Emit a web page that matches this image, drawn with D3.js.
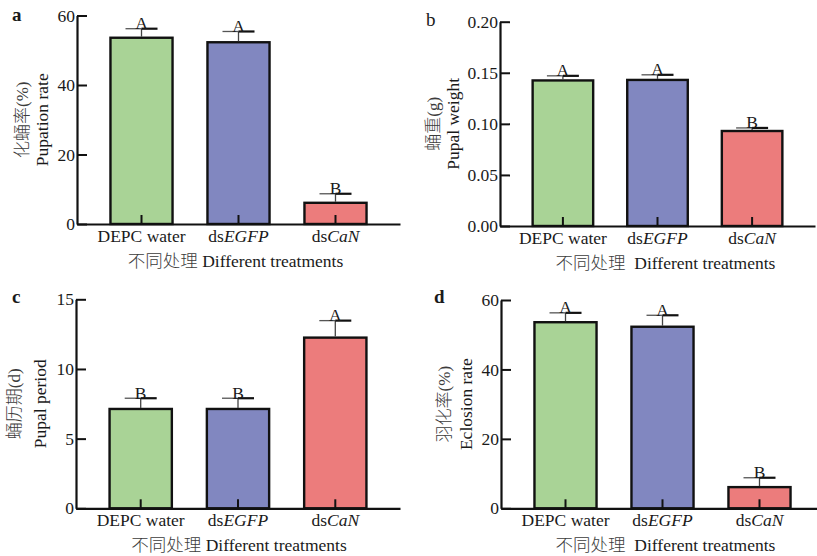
<!DOCTYPE html>
<html>
<head>
<meta charset="utf-8">
<script src="https://cdn.jsdelivr.net/npm/d3@7"></script>
<style>
  html, body { margin: 0; padding: 0; background: #fff; }
  svg { display: block; }
</style>
</head>
<body>
<script>
const WIDTH = 817;
const HEIGHT = 556;
const INK = '#1a1a1a';
const ZH_INK = '#3c3c3c';
const SERIF = '"Liberation Serif", "Times New Roman", serif';
const CJK = '"Liberation Serif", "Noto Sans CJK SC", sans-serif';

// categories (prefix + italic part)
const categories = ['DEPC water', 'dsEGFP', 'dsCaN'];
const catPlain = ['DEPC water', 'ds', 'ds'];
const catItalic = ['', 'EGFP', 'CaN'];
const barColors = ['#a9d396', '#8187c0', '#ec7c7c'];

// a: pupation rate (%)
const pupationRate = [53.6, 52.3, 6.1];
const pupationErr = [2.6, 3.1, 2.6];
const pupationLetters = ['A', 'A', 'B'];
const pupationTicks = [0, 20, 40, 60];

// b: pupal weight (g)
const pupalWeight = [0.1425, 0.143, 0.093];
const pupalWeightErr = [0.0045, 0.005, 0.003];
const pupalWeightLetters = ['A', 'A', 'B'];
const pupalWeightTicks = [0, 0.05, 0.10, 0.15, 0.20];

// c: pupal period (d)
const pupalPeriod = [7.13, 7.13, 12.25];
const pupalPeriodErr = [0.77, 0.77, 1.22];
const pupalPeriodLetters = ['B', 'B', 'A'];
const pupalPeriodTicks = [0, 5, 10, 15];

// d: eclosion rate (%)
const eclosionRate = [53.6, 52.3, 6.1];
const eclosionErr = [2.7, 3.3, 2.7];
const eclosionLetters = ['A', 'A', 'B'];
const eclosionTicks = [0, 20, 40, 60];

const svg = d3.select('body').append('svg')
  .attr('width', WIDTH)
  .attr('height', HEIGHT)
  .attr('viewBox', `0 0 ${WIDTH} ${HEIGHT}`);

function drawPanel(p) {
  const g = svg.append('g');
  const x = d3.scaleBand()
    .domain(categories)
    .range([p.x0, p.x1])
    .paddingInner(0.36)
    .paddingOuter(0.345);
  const y = d3.scaleLinear()
    .domain([0, p.max])
    .range([p.y0, p.yTop]);

  const rows = categories.map((c, i) => ({ c, i, v: p.values[i], e: p.errs[i], l: p.letters[i] }));

  // bars
  g.selectAll('rect.bar').data(rows).join('rect')
    .attr('class', 'bar')
    .attr('x', d => x(d.c))
    .attr('y', d => y(d.v))
    .attr('width', x.bandwidth())
    .attr('height', d => y(0) - y(d.v))
    .attr('fill', d => barColors[d.i])
    .attr('stroke', '#111')
    .attr('stroke-width', 2.4);

  // error bars (upper only)
  const cx = d => x(d.c) + x.bandwidth() / 2;
  const capHalf = 16;
  g.selectAll('line.err').data(rows).join('line')
    .attr('class', 'err')
    .attr('x1', cx).attr('x2', cx)
    .attr('y1', d => y(d.v) - 1).attr('y2', d => y(d.v + d.e))
    .attr('stroke', '#444').attr('stroke-width', 1.3);
  g.selectAll('line.capl').data(rows).join('line')
    .attr('class', 'capl')
    .attr('x1', d => cx(d) - capHalf).attr('x2', cx)
    .attr('y1', d => y(d.v + d.e)).attr('y2', d => y(d.v + d.e))
    .attr('stroke', '#555').attr('stroke-width', 1.3);
  g.selectAll('line.capr').data(rows).join('line')
    .attr('class', 'capr')
    .attr('x1', cx).attr('x2', d => cx(d) + capHalf)
    .attr('y1', d => y(d.v + d.e)).attr('y2', d => y(d.v + d.e))
    .attr('stroke', '#111').attr('stroke-width', 2.2);

  // significance letters
  g.selectAll('text.sig').data(rows).join('text')
    .attr('class', 'sig')
    .attr('x', cx)
    .attr('y', d => y(d.v + d.e) + 0.5)
    .attr('text-anchor', 'middle')
    .attr('font-family', SERIF)
    .attr('font-size', 17.5)
    .attr('fill', INK)
    .text(d => d.l);

  // axes, ticks pointing inward
  const xAxis = g.append('g')
    .attr('transform', `translate(0,${p.y0})`)
    .call(d3.axisBottom(x).tickSizeInner(-9).tickSizeOuter(0).tickPadding(7));
  xAxis.select('.domain').attr('stroke', '#111').attr('stroke-width', 2.2);
  xAxis.selectAll('.tick line').attr('stroke', '#111').attr('stroke-width', 2);
  xAxis.selectAll('.tick text').each(function (d, i) {
    const t = d3.select(this);
    t.text(null)
      .attr('y', 18).attr('dy', null)
      .attr('font-family', SERIF).attr('font-size', 17.5).attr('fill', INK);
    t.append('tspan').text(catPlain[i]);
    if (catItalic[i]) t.append('tspan').attr('font-style', 'italic').text(catItalic[i]);
  });

  const yAxis = g.append('g')
    .attr('transform', `translate(${p.x0},0)`)
    .call(d3.axisLeft(y).tickValues(p.ticks).tickFormat(p.fmt)
      .tickSizeInner(-10).tickSizeOuter(0).tickPadding(2));
  yAxis.select('.domain').attr('stroke', '#111').attr('stroke-width', 2.2);
  yAxis.selectAll('.tick line').attr('stroke', '#111').attr('stroke-width', 2);
  yAxis.selectAll('.tick text')
    .attr('font-family', SERIF).attr('font-size', 17.5).attr('fill', INK);

  // x title: Chinese part + English part
  const xt = g.append('text')
    .attr('x', (p.x0 + p.x1) / 2 + p.titleDx)
    .attr('y', p.y0 + 43)
    .attr('text-anchor', 'middle')
    .attr('font-size', 17.5)
    .style('white-space', 'pre');
  xt.append('tspan')
    .attr('font-family', CJK).attr('font-weight', 300).attr('fill', ZH_INK)
    .text(p.xTitleZh);
  xt.append('tspan')
    .attr('font-family', SERIF).attr('fill', INK)
    .text(p.xTitleEn);

  // y titles (two lines)
  const midY = (p.y0 + p.yTop) / 2;
  g.append('text')
    .attr('transform', `translate(${p.zhX},${midY}) rotate(-90)`)
    .attr('text-anchor', 'middle')
    .attr('dominant-baseline', 'central')
    .attr('font-family', CJK)
    .attr('font-weight', 300)
    .attr('font-size', 17)
    .attr('fill', ZH_INK)
    .text(p.zh);
  g.append('text')
    .attr('transform', `translate(${p.enX},${midY}) rotate(-90)`)
    .attr('text-anchor', 'middle')
    .attr('dominant-baseline', 'central')
    .attr('font-family', SERIF)
    .attr('font-size', 17.5)
    .attr('fill', INK)
    .text(p.en);

  // panel letter
  svg.append('text')
    .attr('x', p.lx).attr('y', p.ly)
    .attr('font-family', SERIF)
    .attr('font-size', 19)
    .attr('font-weight', p.bold ? 700 : 400)
    .attr('fill', INK)
    .text(p.id);
}

drawPanel({
  id: 'a', lx: 12, ly: 21, bold: true,
  x0: 77, x1: 400, y0: 224, yTop: 15.5, max: 60,
  values: pupationRate, errs: pupationErr, letters: pupationLetters,
  ticks: pupationTicks, fmt: d3.format('d'),
  zh: '化蛹率(%)', en: 'Pupation rate', zhX: 22, enX: 42,
  xTitleZh: '不同处理 ', xTitleEn: 'Different treatments', titleDx: -3
});

drawPanel({
  id: 'b', lx: 426, ly: 26, bold: false,
  x0: 500, x1: 815, y0: 226, yTop: 21.7, max: 0.2,
  values: pupalWeight, errs: pupalWeightErr, letters: pupalWeightLetters,
  ticks: pupalWeightTicks, fmt: d3.format('.2f'),
  zh: '蛹重(g)', en: 'Pupal weight', zhX: 433, enX: 453,
  xTitleZh: '不同处理  ', xTitleEn: 'Different treatments', titleDx: 8
});

drawPanel({
  id: 'c', lx: 12, ly: 303, bold: true,
  x0: 76, x1: 400, y0: 508.3, yTop: 299.3, max: 15,
  values: pupalPeriod, errs: pupalPeriodErr, letters: pupalPeriodLetters,
  ticks: pupalPeriodTicks, fmt: d3.format('d'),
  zh: '蛹历期(d)', en: 'Pupal period', zhX: 14, enX: 40,
  xTitleZh: '不同处理 ', xTitleEn: 'Different treatments', titleDx: 1
});

drawPanel({
  id: 'd', lx: 434, ly: 303, bold: true,
  x0: 501, x1: 824, y0: 508.3, yTop: 300, max: 60,
  values: eclosionRate, errs: eclosionErr, letters: eclosionLetters,
  ticks: eclosionTicks, fmt: d3.format('d'),
  zh: '羽化率(%)', en: 'Eclosion rate', zhX: 444, enX: 466,
  xTitleZh: '不同处理  ', xTitleEn: 'Different treatments', titleDx: 3
});
</script>
</body>
</html>
